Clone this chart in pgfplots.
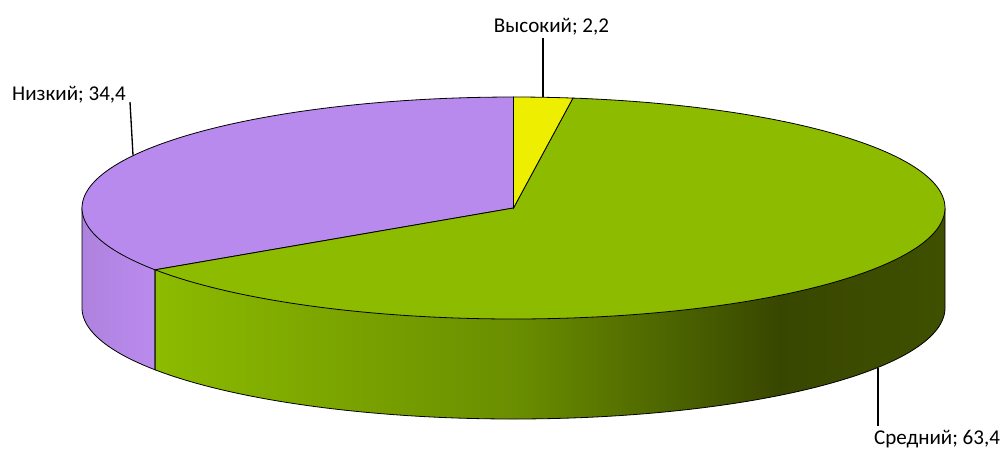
\documentclass[border=0pt]{standalone}
\usepackage{pgfplots}
\pgfplotsset{compat=1.18}
\usepackage{pgfplotstable}
\usepackage{fontspec}
\setmainfont{Carlito}

\definecolor{pYellow}{HTML}{EEEE00}
\definecolor{pGreen}{HTML}{8CBB00}
\definecolor{pPurple}{HTML}{B98AED}
\definecolor{psL}{HTML}{AE82DE}
\definecolor{psR}{HTML}{BA8BEE}
\definecolor{gs0}{HTML}{8CBB00}
\definecolor{gs1}{HTML}{6A8E00}
\definecolor{gs2}{HTML}{384700}
\definecolor{gs3}{HTML}{3F5000}

\pgfdeclarehorizontalshading{greenside}{100bp}{color(0bp)=(gs0); color(25bp)=(gs0); color(47.8bp)=(gs1); color(64.5bp)=(gs2); color(75bp)=(gs3); color(100bp)=(gs3)}
\pgfdeclarehorizontalshading{purpleside}{100bp}{color(0bp)=(psL); color(25bp)=(psL); color(75bp)=(psR); color(100bp)=(psR)}

% share of each category, percent
\pgfplotstableread{
name value
high 2.2
mid  63.4
low  34.4
}\pietable

\begin{document}
\begin{tikzpicture}
\pgfplotstablegetelem{0}{value}\of\pietable \let\vA\pgfplotsretval
\pgfplotstablegetelem{1}{value}\of\pietable \let\vB\pgfplotsretval
\pgfplotstablegetelem{2}{value}\of\pietable \let\vC\pgfplotsretval
% geometry (pixel units, y downward)
\def\cx{513.5}\def\cy{208}\def\ra{431.5}\def\rb{111}\def\dep{100}
\pgfmathsetmacro\tA{90-3.6*\vA}   % end of first slice
\pgfmathsetmacro\tB{\tA-3.6*\vB}  % end of second slice
\pgfmathsetmacro\tBB{\tB+360}
\pgfmathsetmacro\xB{\cx+\ra*cos(\tB)}
\pgfmathsetmacro\yB{\cy-\rb*sin(\tB)}
\pgfmathsetmacro\xL{\cx-\ra}
\pgfmathsetmacro\xR{\cx+\ra}
\begin{axis}[
  width=751.5pt, height=338.25pt, scale only axis,
  xmin=0, xmax=1002, ymin=0, ymax=451, y dir=reverse,
  hide axis, clip=false,
]
\path[draw=none] (axis cs:0,0) rectangle (axis cs:1002,451);
% side walls
\addplot[shade, shading=purpleside, draw=black, line width=0.6pt, domain=180:\tBB, samples=40, variable=\t]
  ({\cx+\ra*cos(t)}, {\cy+\dep-\rb*sin(t)}) -- (axis cs:\xB,\yB) -- (axis cs:\xL,\cy) -- cycle;
\addplot[shade, shading=greenside, draw=black, line width=0.6pt, domain=\tBB:360, samples=160, variable=\t]
  ({\cx+\ra*cos(t)}, {\cy+\dep-\rb*sin(t)}) -- (axis cs:\xR,\cy) -- (axis cs:\cx,\cy) -- (axis cs:\xB,\yB) -- cycle;
% top faces
\addplot[fill=pPurple, draw=black, line width=0.6pt, domain=90:\tBB, samples=100, variable=\t]
  ({\cx+\ra*cos(t)}, {\cy-\rb*sin(t)}) -- (axis cs:\cx,\cy) -- cycle;
\addplot[fill=pGreen, draw=black, line width=0.6pt, domain=\tB:\tA, samples=200, variable=\t]
  ({\cx+\ra*cos(t)}, {\cy-\rb*sin(t)}) -- (axis cs:\cx,\cy) -- cycle;
\addplot[fill=pYellow, draw=black, line width=0.6pt, domain=\tA:90, samples=20, variable=\t]
  ({\cx+\ra*cos(t)}, {\cy-\rb*sin(t)}) -- (axis cs:\cx,\cy) -- cycle;
% leader lines and labels
\draw[line width=1pt] (axis cs:543,38) -- (axis cs:543,97);
\draw[line width=1pt] (axis cs:130,102) -- (axis cs:133,155);
\draw[line width=1pt] (axis cs:878,368) -- (axis cs:878,426);
\node[anchor=base, font=\fontsize{15.8}{19}\selectfont, inner sep=0pt] at (axis cs:551.5,32) {Высокий; 2,2};
\node[anchor=base, font=\fontsize{15.8}{19}\selectfont, inner sep=0pt] at (axis cs:69,100) {Низкий; 34,4};
\node[anchor=base, font=\fontsize{15.8}{19}\selectfont, inner sep=0pt] at (axis cs:937,444) {Средний; 63,4};
\end{axis}
\end{tikzpicture}
\end{document}
